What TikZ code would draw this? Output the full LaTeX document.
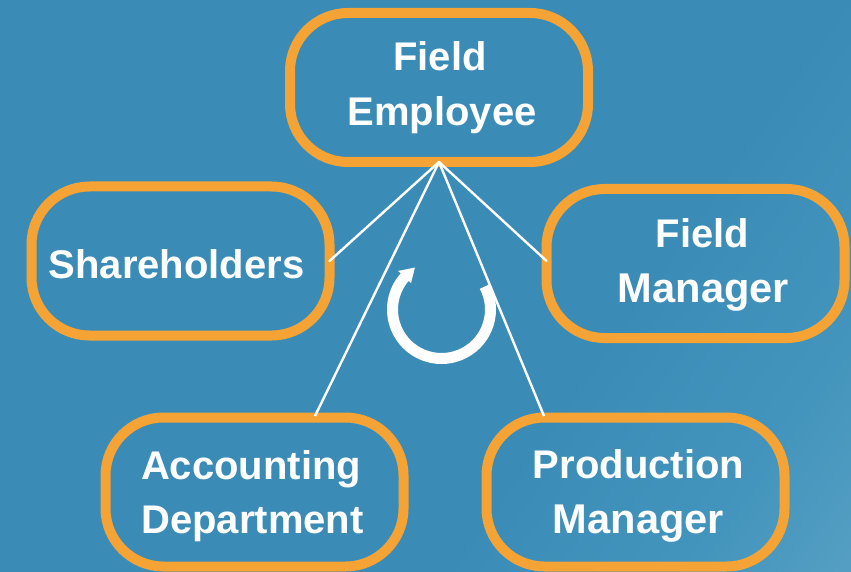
\documentclass[tikz,border=0pt]{standalone}
\usepackage{fontspec}
\setmainfont{Liberation Sans}
\definecolor{bgblue}{HTML}{3A8CB7}
\definecolor{bgmid}{HTML}{4495BD}
\definecolor{bglight}{HTML}{5BA2C5}
\definecolor{boxorange}{HTML}{F5A334}
\pgfdeclarehorizontalshading{bgshade}{100bp}{color(0bp)=(bgblue); color(62bp)=(bgblue); color(76bp)=(bgmid); color(88bp)=(bglight); color(100bp)=(bglight)}
\newcommand{\wide}[1]{{\fontsize{41.6}{54.5}\selectfont #1}}
\newcommand{\drop}[1]{\rule{0pt}{\dimexpr29pt+2\dimexpr#1\relax\relax}}
\tikzset{
  box/.style={draw=boxorange, line width=10pt, rounded corners=58pt, minimum width=298pt, minimum height=149pt,
    outer sep=0pt, inner sep=0pt, text=white, align=center, font=\fontsize{40}{54.5}\selectfont\bfseries},
  link/.style={draw=white, line width=2.4pt}
}
\begin{document}
\begin{tikzpicture}[x=1pt,y=-1pt]
\useasboundingbox (0,0) rectangle (851,572);
\fill[shading=bgshade, shading angle=-35] (0,0) rectangle (851,572);
% boxes
\node[box] (emp) at (439,87.5) {\hspace*{2pt}Field\\\hspace*{6pt}Employee};
\node[box] (sh) at (180.5,261) {\drop{3pt}\hspace*{-8pt}Shareholders};
\node[box] (fm) at (695.5,263.5) {\drop{1.5pt}\hspace*{14pt}Field\\\hspace*{16pt}\wide{Manager}};
\node[box] (ac) at (254.5,492) {\drop{4pt}\hspace*{-7pt}Accounting\\\hspace*{-4pt}Department};
\node[box] (pm) at (635.5,492) {\drop{4pt}\hspace*{6pt}Production\\\hspace*{6pt}\wide{Manager}};
% free ends on the box outlines
\coordinate (acend) at (315,416);
\coordinate (pmend) at (544,416);
\draw[link, line cap=round] (emp.south) -- (sh.east);
\draw[link, line cap=round] (emp.south) -- (fm.179);
\draw[link] (emp.south) -- (acend);
\draw[link] (emp.south) -- (pmend);
% cycle arrow
\coordinate (cyc) at (441.5,309.5);
\draw[white, line width=11pt] (cyc) ++(-28:49) arc[start angle=-28, end angle=222, radius=49];
\fill[white] (398,271) -- (415,267.5) -- (411,283) -- (408,280.5) -- (401,273.5) -- cycle;
\end{tikzpicture}
\end{document}
